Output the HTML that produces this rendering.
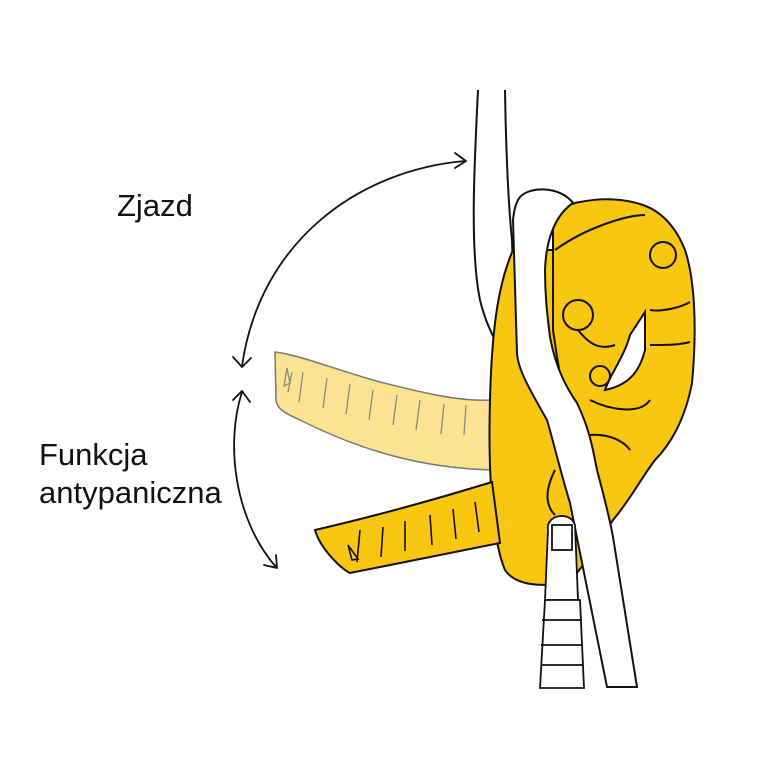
<!DOCTYPE html>
<html><head><style>
html,body{margin:0;padding:0;background:#fff;}
svg{display:block}
text{font-family:"Liberation Sans",sans-serif;font-size:31px;fill:#111}
</style></head><body>
<svg width="770" height="770" viewBox="0 0 770 770" xmlns="http://www.w3.org/2000/svg">
<rect width="770" height="770" fill="#fff"/>
<text x="117" y="216">Zjazd</text>
<text x="39" y="465">Funkcja</text>
<text x="39" y="503">antypaniczna</text>

<g fill="none" stroke="#111" stroke-width="1.8" stroke-linecap="round" stroke-linejoin="round">
<path d="M465,161 C360,170 260,240 242,366"/>
<path d="M455,153 L466,161 L455,168"/>
<path d="M233,357 L242,367 L251,358"/>
<path d="M242,392 C225,445 235,520 276,567"/>
<path d="M233,400 L242,391 L250,402"/>
<path d="M264,565 L277,568 L276,555"/>
</g>

<g stroke="#777" stroke-width="1.5" fill="#fce18c" fill-opacity="0.95">
<path d="M275,352 C300,355 330,368 380,382 C420,392 460,402 492,400 L492,470 C420,468 360,450 300,420 C282,412 277,408 276,400 Z"/>
</g>
<g fill="none" stroke="#888" stroke-width="1.3">
<path d="M287,368 l-3,18 l6,-3 z M292,372 l-4,20 M303,372 l-4,30 M327,378 l-4,30 M350,384 l-4,30 M373,390 l-4,30 M397,395 l-4,30 M420,400 l-4,30 M444,404 l-3,30 M466,405 l-2,30"/>
</g>

<path d="M478,90 C474,170 470,250 480,300 C485,320 490,330 495,340 L515,340 L512,240 C508,200 506,150 505,90" fill="#fff" stroke="#111" stroke-width="2"/>

<path d="M513,250 C500,280 492,320 490,400 C488,470 492,540 505,570 C515,585 540,588 570,582 L610,530 L560,250 Z" fill="#f9c612" stroke="#111" stroke-width="2"/>

<path d="M315,530 C380,515 440,498 492,482 L500,543 C440,555 390,565 350,573 C340,568 320,548 315,530 Z" fill="#f9c612" stroke="#111" stroke-width="2"/>
<g fill="none" stroke="#111" stroke-width="1.6">
<path d="M348,545 l4,15 l6,-1 z M360,530 l-3,32 M383,527 l-2,30 M405,521 l0,30 M430,515 l2,30 M453,509 l3,30 M475,502 l4,30"/>
</g>

<path d="M553,223 C560,210 570,203 580,202 C600,198 620,198 640,204 C660,210 675,225 685,250 C695,280 697,330 692,383 C685,420 670,445 655,460 C640,480 630,500 613,520 L600,540 L580,470 C570,430 560,380 553,330 Z" fill="#f9c612" stroke="#111" stroke-width="2"/>
<path d="M555,250 C590,225 630,215 645,215" fill="none" stroke="#111" stroke-width="2"/>
<circle cx="663" cy="255" r="13" fill="#f9c612" stroke="#111" stroke-width="2"/>
<path d="M650,310 C660,312 680,308 690,302 M650,345 C665,345 680,345 690,342" fill="none" stroke="#111" stroke-width="2"/>
<path d="M645,312 L645,350 C640,370 630,385 605,390 C610,375 625,355 630,335 Z" fill="#fff" stroke="#111" stroke-width="2"/>
<path d="M578,330 C590,345 600,350 615,345" fill="none" stroke="#111" stroke-width="2"/>
<circle cx="578" cy="315" r="15" fill="#f9c612" stroke="#111" stroke-width="2"/>
<circle cx="600" cy="376" r="10" fill="#f9c612" stroke="#111" stroke-width="2"/>
<path d="M590,400 C610,410 640,415 650,400 M575,440 C590,430 620,435 630,450 M555,470 C545,490 545,505 555,515" fill="none" stroke="#111" stroke-width="2"/>

<path d="M520,197 C530,186 560,186 573,203 C555,215 546,240 545,270 C545,300 548,320 550,337 C556,370 568,390 577,403 C590,430 593,450 597,470 C605,500 610,520 613,537 L637,687 L607,687 L570,503 C560,470 553,440 547,420 C530,390 518,370 517,353 L513,220 C514,210 516,202 520,197 Z" fill="#fff" stroke="#111" stroke-width="2"/>

<g fill="#fff" stroke="#111" stroke-width="1.8">
<path d="M548,530 C545,515 570,510 575,525 L578,600 L545,600 Z"/>
<rect x="552" y="525" width="20" height="25"/>
<path d="M545,600 L580,600 L584,688 L540,688 Z"/>
<path d="M542,620 L582,620 M541,645 L583,645 M541,665 L583,665"/>
</g>
</svg>
</body></html>
